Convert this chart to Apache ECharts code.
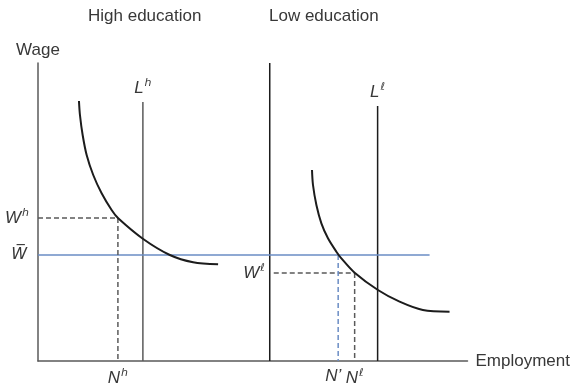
<!DOCTYPE html>
<html>
<head>
<meta charset="utf-8">
<script src="https://cdn.jsdelivr.net/npm/echarts@6/dist/echarts.min.js"></script>
<style>
  html, body { margin: 0; padding: 0; background: #fff; }
  #chart { width: 573px; height: 387px; }
</style>
</head>
<body>
<div id="chart"></div>
<script>
// Employment (x) and wage (y) in diagram units; origin at the axis corner.
const panelTitles = ['High education', 'Low education'];

// Labour demand curve, high-education market
const demandHigh = [[41, 260], [42, 246], [44.7, 226], [48.7, 206], [55.3, 186], [63.7, 167.7], [73.7, 151], [80.3, 142.7], [105.3, 122], [132, 106], [155.3, 98.7], [180.3, 96.7]];
// Labour demand curve, low-education market
const demandLow = [[274.3, 191], [275.3, 176], [278.7, 156], [283.7, 137.7], [290.3, 122.7], [298.7, 109.3], [303.7, 102.7], [317, 88.3], [340.3, 71], [362, 59.3], [385.3, 51], [412, 49.3]];

// Labour supply (vertical) and the low-education panel's wage axis
const supplyHigh = 105, supplyHighTop = 259;
const supplyLow = 340, supplyLowTop = 255;
const lowAxisX = 232, axisTop = 298;

// Wages and employment levels
const wageBar = 106, wageBarEnd = 392;
const wageHigh = 143, empHigh = 80;
const wageLow = 88, empLow = 317;
const empPrime = 300.5;

const BLACK = '#1c1c1c', GRAY = '#5a5a5a', BLUE = '#6a8cc4';
const TEXT = '#383838';
const FONT = 'Liberation Sans';
const CLEAR = 'rgba(0,0,0,0)';

function sup(base, s) { return '{b|' + base + '}{s|' + s + '}'; }
const rich = {
  b: { fontFamily: FONT, fontSize: 17, fontStyle: 'italic', color: TEXT },
  s: { fontFamily: 'DejaVu Sans', fontSize: 11, fontStyle: 'italic', color: TEXT, padding: [0, 0, 9, 1] }
};

function seg(name, pts, color, width, type, labels) {
  return {
    type: 'line', name: name, symbol: 'circle', symbolSize: 1, showSymbol: true, silent: true,
    itemStyle: { color: CLEAR, borderColor: CLEAR },
    lineStyle: { color: color, width: width, type: type },
    data: pts.map((p, i) => {
      const item = { value: p };
      if (labels && labels[i]) {
        item.label = Object.assign({ show: true, rich: rich, fontFamily: FONT, color: TEXT }, labels[i]);
      }
      return item;
    }),
    z: 3
  };
}

const titleStyle = { fontFamily: FONT, fontSize: 17, fontWeight: 'normal', color: TEXT };

const option = {
  animation: false,
  title: [
    { text: panelTitles[0], left: 83, top: 3, textStyle: titleStyle },
    { text: panelTitles[1], left: 264, top: 3, textStyle: titleStyle }
  ],
  grid: { left: 38, top: 63, width: 430, height: 298 },
  xAxis: {
    type: 'value', min: 0, max: 430,
    name: 'Employment', nameLocation: 'end', nameGap: 8,
    nameTextStyle: { fontFamily: FONT, fontSize: 17, color: TEXT },
    axisLine: { show: true, lineStyle: { color: GRAY, width: 1.5 } },
    axisTick: { show: false }, axisLabel: { show: false }, splitLine: { show: false }
  },
  yAxis: {
    type: 'value', min: 0, max: 298,
    name: 'Wage', nameLocation: 'end', nameGap: 4,
    nameTextStyle: { fontFamily: FONT, fontSize: 17, color: TEXT, align: 'center' },
    axisLine: { show: true, lineStyle: { color: GRAY, width: 1.5 } },
    axisTick: { show: false }, axisLabel: { show: false }, splitLine: { show: false }
  },
  series: [
    // low-education panel axis
    seg('lowAxis', [[lowAxisX, 0], [lowAxisX, axisTop]], BLACK, 1.5, 'solid'),
    // supply lines
    seg('Lh', [[supplyHigh, 0], [supplyHigh, supplyHighTop]], GRAY, 1.5, 'solid',
      [null, { position: 'top', distance: 3, formatter: sup('L', 'h') }]),
    seg('Ll', [[supplyLow, 0], [supplyLow, supplyLowTop]], BLACK, 1.5, 'solid',
      [null, { position: 'top', distance: 3, formatter: sup('L', 'ℓ') }]),
    // common wage
    seg('Wbar', [[0, wageBar], [wageBarEnd, wageBar]], BLUE, 1.5, 'solid',
      [{ position: 'left', distance: 10, formatter: '{o|W\u0305}', rich: { o: { fontFamily: 'DejaVu Sans', fontSize: 16, fontStyle: 'italic', color: TEXT } } }, null]),
    // high-education equilibrium
    seg('Wh', [[0, wageHigh], [empHigh, wageHigh]], GRAY, 1.5, [5, 3],
      [{ position: 'left', distance: 8, formatter: sup('W', 'h') }, null]),
    seg('Nh', [[empHigh, wageHigh], [empHigh, 0]], GRAY, 1.5, [5, 3],
      [null, { position: 'bottom', distance: 6, formatter: sup('N', 'h') }]),
    // low-education equilibrium
    seg('Wl', [[lowAxisX + 4, wageLow], [empLow, wageLow]], GRAY, 1.5, [5, 3],
      [{ position: 'left', distance: 8, formatter: sup('W', 'ℓ') }, null]),
    seg('Nl', [[empLow, wageLow], [empLow, 0]], GRAY, 1.5, [5, 3],
      [null, { position: 'bottom', distance: 6, formatter: sup('N', 'ℓ') }]),
    seg('Nprime', [[empPrime, wageBar], [empPrime, 0]], BLUE, 1.5, [5, 3],
      [null, { position: 'bottom', distance: 6, offset: [-5, 0], formatter: "{b|N\u2019}" }]),
    // demand curves
    {
      type: 'line', name: 'demandHigh', data: demandHigh, smooth: 0.3, showSymbol: false, symbol: 'none', silent: true,
      lineStyle: { color: BLACK, width: 2 }, z: 4
    },
    {
      type: 'line', name: 'demandLow', data: demandLow, smooth: 0.3, showSymbol: false, symbol: 'none', silent: true,
      lineStyle: { color: BLACK, width: 2 }, z: 4
    }
  ]
};

const chart = echarts.init(document.getElementById('chart'), null, { renderer: 'canvas' });
chart.setOption(option);
</script>
</body>
</html>
